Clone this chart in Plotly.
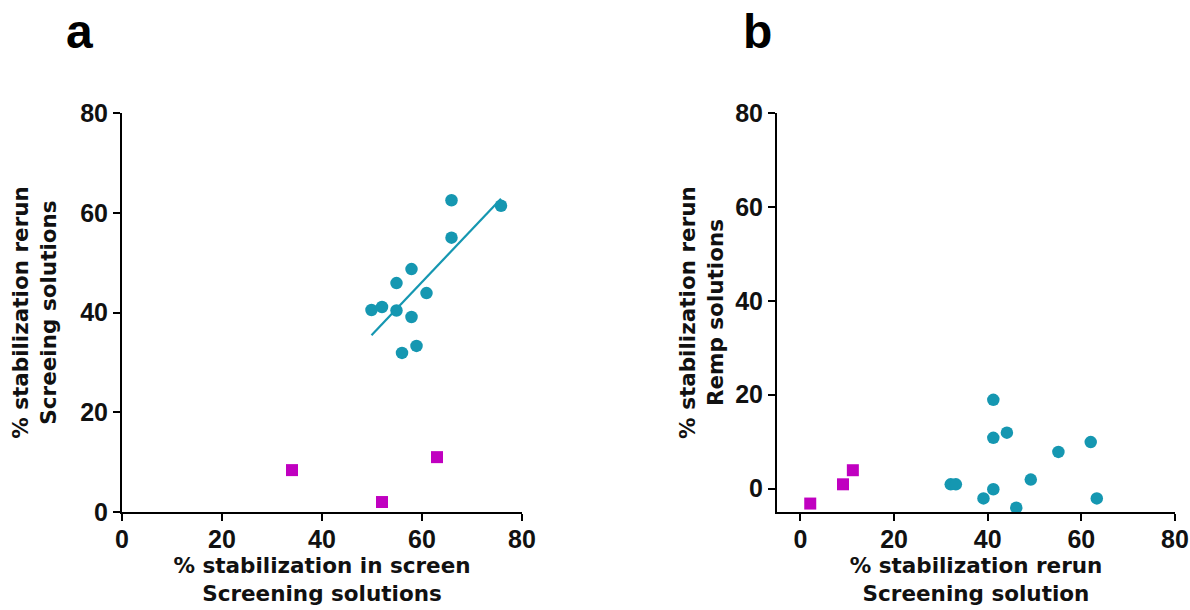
import numpy as np
import plotly.graph_objects as go

# Panel a data
a_cyan_x = [49.9, 52.0, 54.9, 54.9, 56.0, 57.9, 57.9, 58.9, 60.9, 65.9, 65.9, 75.8]
a_cyan_y = [40.5, 41.1, 45.9, 40.4, 31.9, 48.7, 39.1, 33.3, 43.9, 62.5, 55.0, 61.4]
a_pink_x = [34.0, 52.0, 63.0]
a_pink_y = [8.4, 2.0, 11.0]

# Panel b data
b_cyan_x = [41.2, 41.2, 44.1, 55.1, 62.0, 49.2, 32.1, 33.2, 41.2, 39.1, 46.1, 63.3]
b_cyan_y = [18.9, 10.8, 11.9, 7.8, 9.9, 1.9, 0.9, 0.9, -0.15, -2.1, -4.1, -2.1]
b_pink_x = [2.1, 9.1, 11.2]
b_pink_y = [-3.2, 0.9, 3.9]

tick_vals = [0, 20, 40, 60, 80]

CYAN = "#1597B1"
PINK = "#C000C0"

W, H = 1190, 610
def fx(px):
    return px / W
def fy(py):
    return 1 - py / H

fig = go.Figure()

fig.add_trace(go.Scatter(x=a_cyan_x, y=a_cyan_y, mode="markers",
                         marker=dict(symbol="circle", size=12.5, color=CYAN),
                         xaxis="x", yaxis="y", showlegend=False, cliponaxis=False))
fig.add_trace(go.Scatter(x=a_pink_x, y=a_pink_y, mode="markers",
                         marker=dict(symbol="square", size=12, color=PINK),
                         xaxis="x", yaxis="y", showlegend=False, cliponaxis=False))

# regression line for panel a cyan points
slope, intercept = np.polyfit(a_cyan_x, a_cyan_y, 1)
lx = [min(a_cyan_x), max(a_cyan_x)]
ly = [slope * v + intercept for v in lx]
fig.add_trace(go.Scatter(x=lx, y=ly, mode="lines", line=dict(color=CYAN, width=2.2),
                         xaxis="x", yaxis="y", showlegend=False))

fig.add_trace(go.Scatter(x=b_cyan_x, y=b_cyan_y, mode="markers",
                         marker=dict(symbol="circle", size=12.5, color=CYAN),
                         xaxis="x2", yaxis="y2", showlegend=False, cliponaxis=False))
fig.add_trace(go.Scatter(x=b_pink_x, y=b_pink_y, mode="markers",
                         marker=dict(symbol="square", size=12, color=PINK),
                         xaxis="x2", yaxis="y2", showlegend=False, cliponaxis=False))

tick_font = dict(family="Liberation Sans, Arial", size=25, color="#111111", weight=700)
title_font = dict(family="DejaVu Sans, Verdana", size=21.5, color="#111111", weight=700)

common = dict(showline=True, linecolor="black", linewidth=2, ticks="outside",
              ticklen=7, tickwidth=2, tickcolor="black", showgrid=False, zeroline=False,
              tickvals=tick_vals, ticktext=[str(v) for v in tick_vals],
              tickfont=tick_font, automargin=False)

fig.update_layout(
    width=W, height=H,
    margin=dict(l=0, r=0, t=0, b=0),
    paper_bgcolor="white", plot_bgcolor="white",
    xaxis=dict(domain=[fx(122), fx(522)], range=[0, 80], anchor="y", ticklabelstandoff=-3,
               title=dict(text="% stabilization in screen<br>Screening solutions",
                          font=title_font, standoff=0), **common),
    yaxis=dict(domain=[fy(512), fy(113)], range=[0, 80], anchor="x",
               title=dict(text="% stabilization rerun<br>Screeing solutions",
                          font=title_font, standoff=18), **common),
    xaxis2=dict(domain=[fx(777), fx(1175)], range=[-5, 80], anchor="y2", ticklabelstandoff=-3,
                title=dict(text="% stabilization rerun<br>Screening solution",
                           font=title_font, standoff=0), **common),
    yaxis2=dict(domain=[fy(512), fy(113)], range=[-5, 80], anchor="x2",
                title=dict(text="% stabilization rerun<br>Remp solutions",
                           font=title_font, standoff=6), **common),
    annotations=[
        dict(text="a", x=fx(64), y=fy(60), xref="paper", yref="paper",
             xanchor="left", yanchor="bottom", showarrow=False,
             font=dict(family="Liberation Sans, Arial", size=48, color="black", weight=700)),
        dict(text="b", x=fx(741), y=fy(60), xref="paper", yref="paper",
             xanchor="left", yanchor="bottom", showarrow=False,
             font=dict(family="Liberation Sans, Arial", size=48, color="black", weight=700)),
    ],
)

fig.write_html("out.html", config={"displayModeBar": False},
               post_script="document.body.style.margin='0';document.body.style.padding='0';")
